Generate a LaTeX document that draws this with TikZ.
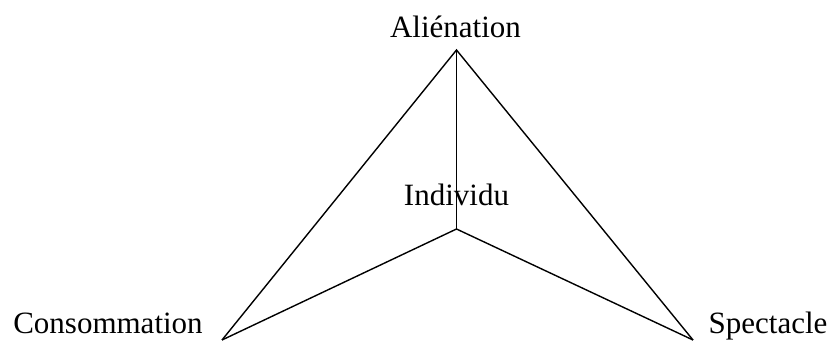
\documentclass[tikz,border=0pt]{standalone}
\usepackage{fontspec}
\setmainfont{Liberation Serif}
\begin{document}
\begin{tikzpicture}[x=1pt,y=1pt,
  lbl/.style={anchor=base,inner sep=0pt,font=\fontsize{31}{37}\selectfont},
  edge/.style={line width=1.4pt,line join=miter}]
\useasboundingbox (0,0) rectangle (829,340);
\coordinate (A) at (456.5,290);
\coordinate (C) at (456.5,111);
\coordinate (L) at (222,0);
\coordinate (R) at (693,0);
\node[lbl] (alien) at (455.5,302) {Aliénation};
\node[lbl] (indiv) at (456.5,134) {Individu};
\node[lbl] (conso) at (108,7) {Consommation};
\node[lbl] (spect) at (768,7) {Spectacle};
\draw[edge] (L) -- (A) -- (R);
\draw[edge] (A) -- (C);
\draw[edge] (L) -- (C) -- (R);
\end{tikzpicture}
\end{document}
